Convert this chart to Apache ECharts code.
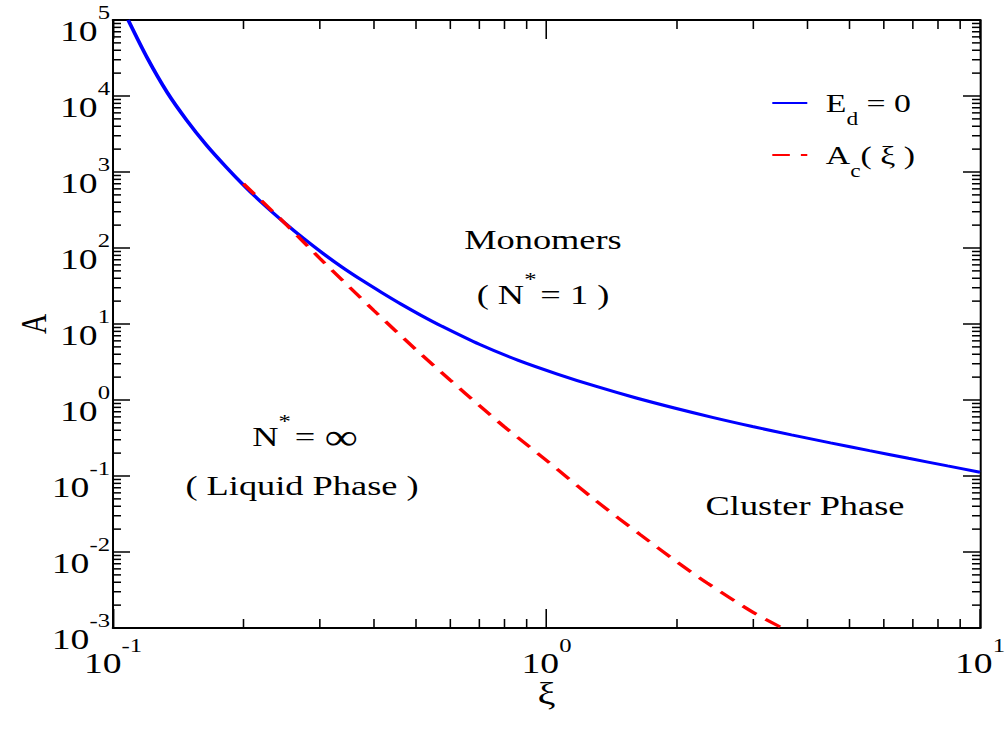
<!DOCTYPE html>
<html>
<head>
<meta charset="utf-8">
<script src="https://cdn.jsdelivr.net/npm/echarts/dist/echarts.min.js"></script>
<style>
html, body { margin:0; padding:0; background:#fff; overflow:hidden; }
#wrap { width:1008px; height:729px; overflow:hidden; position:relative; background:#fff; }
#chart { width:776px; height:729px; transform:scaleX(1.29897); transform-origin:0 0; }
</style>
</head>
<body>
<div id="wrap"><div id="chart"></div></div>
<script>
// ---- data ----
const xiBlue = [0.1084, 0.1202, 0.1334, 0.1479, 0.1641, 0.182, 0.2018, 0.2239, 0.2483, 0.2754, 0.3055, 0.3388, 0.3758, 0.4169, 0.4624, 0.5129, 0.5689, 0.6998, 0.861, 1.0593, 1.3032, 1.6032, 1.9724, 2.4266, 2.9854, 3.6728, 4.5186, 5.559, 6.8391, 8.414, 10];
const aBlue  = [100000, 31000, 11120, 4803, 2278, 1180, 640, 363.9, 216.7, 133.2, 84.4, 55.2, 37.4, 25.9, 18.2, 13.06, 9.572, 5.414, 3.327, 2.198, 1.507, 1.070, 0.7843, 0.5867, 0.4481, 0.3480, 0.2731, 0.2157, 0.1710, 0.1358, 0.1123];
const xiRed  = [0.2, 0.25, 0.3, 0.4, 0.5, 0.6, 0.7, 0.8, 0.966, 1.3, 1.644, 2.0, 2.345, 3.0, 3.5];
const aRed   = [700, 208, 73.1, 15.0, 4.60, 1.82, 0.847, 0.443, 0.188, 0.0473, 0.0170, 0.0074, 0.00393, 0.0016, 0.001];

const xMajorTicks = [0.1, 1, 10];
const yMajorTicks = [1e-3, 1e-2, 1e-1, 1, 10, 100, 1000, 1e4, 1e5];
const minorMultipliers = [2, 3, 4, 5, 6, 7, 8, 9];
const xMinorTicks = [];
xMajorTicks.slice(0, -1).forEach(d => minorMultipliers.forEach(k => xMinorTicks.push(+(d * k).toPrecision(3))));
const yMinorTicks = [];
yMajorTicks.slice(0, -1).forEach(d => minorMultipliers.forEach(k => yMinorTicks.push(+(d * k).toPrecision(3))));

// ---- layout helpers (chart is drawn 776px wide and stretched horizontally) ----
const S = 1008 / 776;
const X = v => v / S;
const FONT = 'Liberation Serif';

const chart = echarts.init(document.getElementById('chart'), null, { renderer: 'svg' });

function expLabel(v) {
  const e = Math.round(Math.log10(v));
  return '{b|10}{s|' + e + '}';
}
const labelRichX = {
  b: { fontFamily: FONT, fontSize: 29, lineHeight: 55, verticalAlign: 'middle', color: '#000' },
  s: { fontFamily: FONT, fontSize: 19, lineHeight: 19, verticalAlign: 'top', color: '#000' }
};
const labelRichY = {
  b: { fontFamily: FONT, fontSize: 29, lineHeight: 55, verticalAlign: 'middle', color: '#000', align: 'right' },
  s: { fontFamily: FONT, fontSize: 19, lineHeight: 19, verticalAlign: 'top', color: '#000', align: 'right' }
};

const blueData = xiBlue.map((x, i) => [x, aBlue[i]]);
const redData = xiRed.map((x, i) => [x, aRed[i]]);
const minorData = xMinorTicks.map(v => [v, 1, 0]).concat(yMinorTicks.map(v => [1, v, 1]));

const axisLineStyleX = { color: '#000', width: 2 };
const axisLineStyleY = { color: '#000', width: 2 / S };

const option = {
  animation: false,
  backgroundColor: '#fff',
  grid: { left: X(113), right: X(28), top: 20, bottom: 101, containLabel: false, outerBoundsMode: 'none' },
  xAxis: [
    {
      type: 'log', logBase: 10, min: 0.1, max: 10, interval: 1, position: 'bottom',
      name: 'ξ', nameLocation: 'middle', nameGap: 50, nameMoveOverlap: false,
      nameTextStyle: { fontFamily: FONT, fontSize: 31, color: '#000' },
      axisLine: { onZero: false, lineStyle: axisLineStyleX },
      axisTick: { inside: true, length: 19, lineStyle: { color: '#000', width: 1.2 } },
      axisLabel: { formatter: expLabel, rich: labelRichX, margin: 8, showMinLabel: true, showMaxLabel: true, hideOverlap: false },
      splitLine: { show: false }, minorTick: { show: false }
    },
    {
      type: 'log', logBase: 10, min: 0.1, max: 10, interval: 1, position: 'top',
      axisLine: { onZero: false, lineStyle: axisLineStyleX },
      axisTick: { inside: true, length: 19, lineStyle: { color: '#000', width: 1.2 } },
      axisLabel: { show: false }, splitLine: { show: false }
    }
  ],
  yAxis: [
    {
      type: 'log', logBase: 10, min: 1e-3, max: 1e5, interval: 1, position: 'left',
      name: 'A', nameLocation: 'middle', nameGap: 47, nameRotate: 90, nameMoveOverlap: false,
      nameTextStyle: { fontFamily: FONT, fontSize: 28, color: '#000' },
      axisLine: { onZero: false, lineStyle: axisLineStyleY },
      axisTick: { inside: true, length: X(17), lineStyle: { color: '#000', width: 1.5 } },
      axisLabel: { formatter: expLabel, rich: labelRichY, align: 'right', margin: X(3), padding: [22, 0, 0, 0], showMinLabel: true, showMaxLabel: true },
      splitLine: { show: false }
    },
    {
      type: 'log', logBase: 10, min: 1e-3, max: 1e5, interval: 1, position: 'right',
      axisLine: { onZero: false, lineStyle: axisLineStyleY },
      axisTick: { inside: true, length: X(17), lineStyle: { color: '#000', width: 1.5 } },
      axisLabel: { show: false }, splitLine: { show: false }
    }
  ],
  legend: {
    orient: 'vertical', left: X(771), top: 77, padding: 0,
    itemWidth: X(35), itemHeight: 14, itemGap: 1,
    data: ['Ed', 'Ac'],
    itemStyle: { color: 'rgba(0,0,0,0)', borderColor: 'rgba(0,0,0,0)', borderWidth: 0 },
    formatter: function (name) {
      return name === 'Ed' ? '{n0|E}{sub|d}{n| = 0}' : '{n0|A}{sub|c}{n|( ξ )}';
    },
    textStyle: {
      color: '#000', fontFamily: FONT, fontSize: 26,
      rich: {
        n0: { fontFamily: FONT, fontSize: 26, lineHeight: 52, verticalAlign: 'middle', color: '#000', padding: [0, 0, 0, X(12)] },
        n: { fontFamily: FONT, fontSize: 26, lineHeight: 52, verticalAlign: 'middle', color: '#000' },
        sub: { fontFamily: FONT, fontSize: 18, lineHeight: 18, verticalAlign: 'top', color: '#000', padding: [33, 0, 0, 0] }
      }
    }
  },
  graphic: [
    { type: 'text', x: X(543), y: 240, silent: true,
      style: { text: 'Monomers', fontFamily: FONT, fontSize: 28, fill: '#000', align: 'center', verticalAlign: 'middle' } },
    { type: 'text', x: X(543), y: 295, silent: true,
      style: { text: '{t|( N}{sup|*}{t|= 1 )}', align: 'center', verticalAlign: 'middle',
        rich: {
          t: { fontFamily: FONT, fontSize: 28, lineHeight: 50, verticalAlign: 'middle', fill: '#000' },
          sup: { fontFamily: FONT, fontSize: 19, lineHeight: 19, verticalAlign: 'top', fill: '#000', padding: [0, 3, 0, 0] }
        } } },
    { type: 'text', x: X(305), y: 437, silent: true,
      style: { text: '{t|N}{sup|*}{t|= }{inf|∞}', align: 'center', verticalAlign: 'middle',
        rich: {
          t: { fontFamily: FONT, fontSize: 28, lineHeight: 50, verticalAlign: 'middle', fill: '#000' },
          sup: { fontFamily: FONT, fontSize: 19, lineHeight: 19, verticalAlign: 'top', fill: '#000', padding: [0, 3, 0, 0] },
          inf: { fontFamily: FONT, fontSize: 36, lineHeight: 50, verticalAlign: 'middle', fill: '#000' }
        } } },
    { type: 'text', x: X(302), y: 486, silent: true,
      style: { text: '( Liquid Phase )', fontFamily: FONT, fontSize: 28, fill: '#000', align: 'center', verticalAlign: 'middle' } },
    { type: 'text', x: X(805), y: 506, silent: true,
      style: { text: 'Cluster Phase', fontFamily: FONT, fontSize: 28, fill: '#000', align: 'center', verticalAlign: 'middle' } }
  ],
  series: [
    {
      name: 'Ed', type: 'line', xAxisIndex: 0, yAxisIndex: 0, data: blueData,
      symbol: 'none', smooth: 0.3, clip: true,
      lineStyle: { color: '#0000ff', width: 3 }, itemStyle: { color: '#0000ff' }
    },
    {
      name: 'Ac', type: 'line', xAxisIndex: 0, yAxisIndex: 0, data: redData,
      symbol: 'none', smooth: 0.3, clip: true,
      lineStyle: { color: '#ff0000', width: 3, type: [13.5, 8.5] }, itemStyle: { color: '#ff0000' }
    },
    {
      name: 'minorTicks', type: 'custom', xAxisIndex: 0, yAxisIndex: 0, silent: true,
      data: minorData,
      renderItem: function (params, api) {
        const cs = params.coordSys;
        const kind = api.value(2);
        if (kind === 0) {
          const p = api.coord([api.value(0), 1]);
          const bottom = cs.y + cs.height, top = cs.y;
          return { type: 'group', children: [
            { type: 'line', shape: { x1: p[0], y1: bottom, x2: p[0], y2: bottom - 9 }, style: { stroke: '#000', lineWidth: 1.2 } },
            { type: 'line', shape: { x1: p[0], y1: top, x2: p[0], y2: top + 9 }, style: { stroke: '#000', lineWidth: 1.2 } }
          ] };
        } else {
          const p = api.coord([1, api.value(1)]);
          const left = cs.x, right = cs.x + cs.width;
          const len = X(8);
          return { type: 'group', children: [
            { type: 'line', shape: { x1: left, y1: p[1], x2: left + len, y2: p[1] }, style: { stroke: '#000', lineWidth: 1.5 } },
            { type: 'line', shape: { x1: right, y1: p[1], x2: right - len, y2: p[1] }, style: { stroke: '#000', lineWidth: 1.5 } }
          ] };
        }
      }
    }
  ]
};
chart.setOption(option);
</script>
</body>
</html>
